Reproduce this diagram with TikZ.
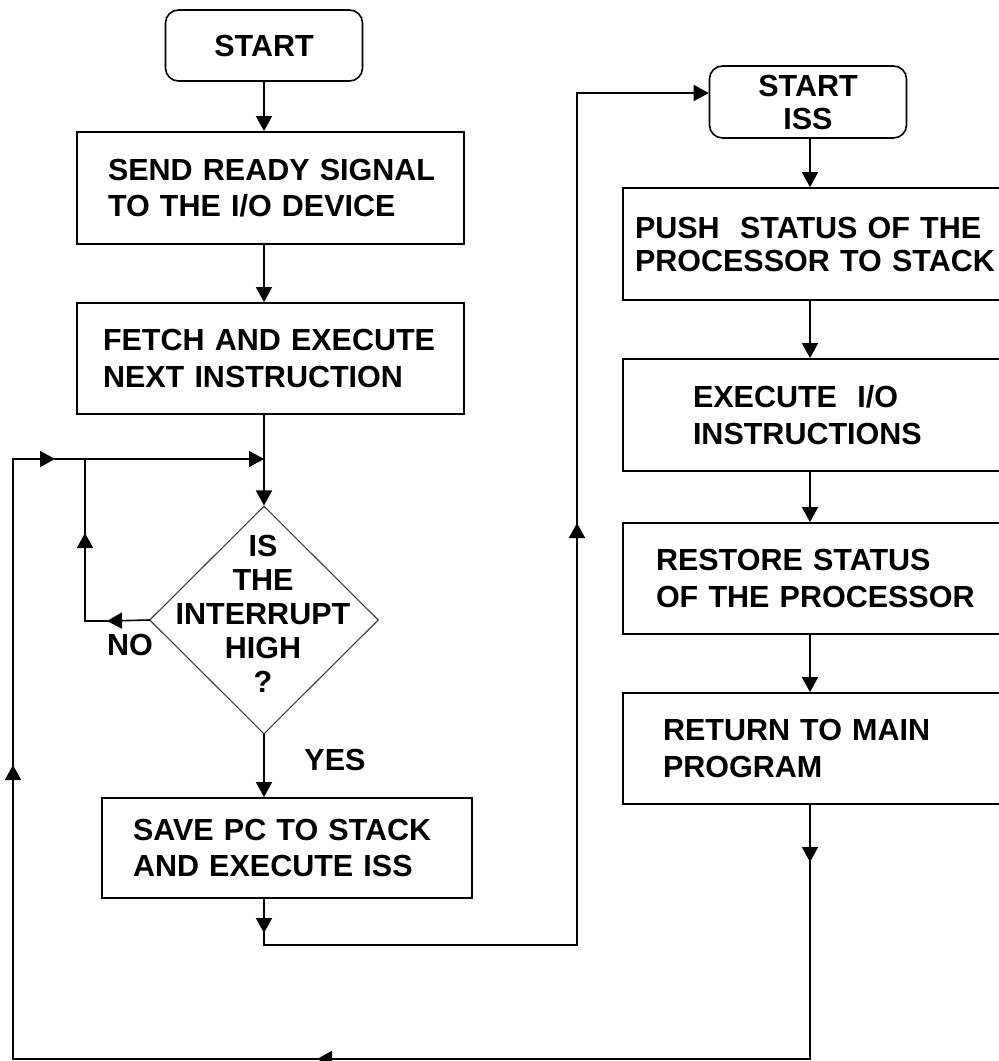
\documentclass[tikz,border=0pt]{standalone}
\usepackage{fontspec}
\setmainfont{Liberation Sans}
\usetikzlibrary{arrows.meta,shapes.geometric}
\begin{document}
\begin{tikzpicture}[x=1pt,y=-1pt,
  txt/.style={font=\bfseries\fontsize{30.5}{36.5}\selectfont, text=black},
  boxnode/.style={txt, draw=black, line width=1.8pt, rectangle, inner ysep=0pt, align=left},
  termnode/.style={txt, draw=black, line width=1.6pt, rectangle, rounded corners=13pt, inner sep=0pt, align=center},
  decnode/.style={draw=black!75, line width=1.1pt, diamond, inner sep=0pt, minimum width=229pt, minimum height=228pt},
  conn/.style={line width=1.6pt, draw=black, line cap=rect},
  arr/.style={conn, -{Triangle[length=15pt,width=16pt]}}
]
\useasboundingbox (0,0) rectangle (999,1061);
\fill[white] (0,0) rectangle (999,1061);

% ---------- nodes ----------
\node[termnode, minimum width=197pt, minimum height=71pt] (start) at (264,45.5) {START};
\node[boxnode, minimum height=112pt, inner xsep=31pt, text width=325pt] (send) at (270.5,188) {\mbox{SEND READY SIGNAL}\\\mbox{TO THE I/O DEVICE}};
\node[boxnode, minimum height=111pt, inner xsep=26pt, text width=335pt] (fetch) at (270.5,358.5) {\mbox{FETCH AND EXECUTE}\\\mbox{NEXT INSTRUCTION}};
\node[decnode] (dec) at (264,620) {};
\node[txt, align=center, font=\bfseries\fontsize{30.5}{34}\selectfont] (dectxt) at (263,614) {IS\\THE\\INTERRUPT\\HIGH\\?};
\node[boxnode, minimum height=100pt, inner xsep=31pt, text width=308pt] (save) at (287,848) {\mbox{SAVE PC TO STACK}\\\mbox{AND EXECUTE ISS}};
\node[txt] (yes) at (335,760) {YES};
\node[txt] (no) at (130,645) {NO};

\node[termnode, minimum width=197pt, minimum height=72pt, font=\bfseries\fontsize{30.5}{33}\selectfont] (startiss) at (808,102) {START\\ISS};
\node[boxnode, minimum height=112pt, inner xsep=12pt, text width=363pt, font=\bfseries\fontsize{30.5}{33}\selectfont] (push) at (816.5,244) {\mbox{PUSH\ \ STATUS OF THE}\\\mbox{PROCESSOR TO STACK}};
\node[boxnode, minimum height=112pt, inner xsep=70pt, text width=247pt] (exec) at (816.5,415) {\mbox{EXECUTE\ \ I/O}\\\mbox{INSTRUCTIONS}};
\node[boxnode, minimum height=111pt, inner xsep=33pt, text width=321pt] (restore) at (816.5,578.5) {\mbox{RESTORE STATUS}\\\mbox{OF THE PROCESSOR}};
\node[boxnode, minimum height=111pt, inner xsep=40pt, text width=307pt] (ret) at (816.5,748.5) {\mbox{RETURN TO MAIN}\\\mbox{PROGRAM}};

% ---------- coordinates ----------
\coordinate (cx) at (264,0);
\coordinate (rx) at (810,0);
\coordinate (j1) at (264,459);
\coordinate (lt) at (13,459);
\coordinate (lb) at (13,1059);
\coordinate (rb) at (810,1059);
\coordinate (nob) at (85,621);
\coordinate (notp) at (85,459);
\coordinate (sb) at (264,945);
\coordinate (mb) at (577,945);
\coordinate (mt) at (577,93);
\coordinate (a1) at (55,459);
\coordinate (a2) at (107,621);
\coordinate (a3) at (85,533);
\coordinate (a4) at (264,933);
\coordinate (a5) at (577,523);
\coordinate (a6) at (810,862);
\coordinate (a7) at (317,1059);
\coordinate (a8) at (13,765);

% ---------- connectors: left column ----------
\draw[arr] (start.south) -- (cx |- send.north);
\draw[arr] (cx |- send.south) -- (cx |- fetch.north);
\draw[conn] (cx |- fetch.south) -- (j1);
\draw[arr] (j1) -- (dec.north);
\draw[arr] (dec.south) -- (cx |- save.north);
% NO loop
\draw[arr] (dec.west) -- (a2);
\draw[conn] (a2) -- (nob);
\draw[arr] (nob) -- (a3);
\draw[conn] (a3) -- (notp);
% to ISS
\draw[arr] (cx |- save.south) -- (a4);
\draw[conn] (a4) -- (sb) -- (mb);
\draw[arr] (mb) -- (a5);
\draw[conn] (a5) -- (mt);
\draw[arr] (mt) -- (mt -| startiss.west);

% ---------- connectors: right column ----------
\draw[arr] (rx |- startiss.south) -- (rx |- push.north);
\draw[arr] (rx |- push.south) -- (rx |- exec.north);
\draw[arr] (rx |- exec.south) -- (rx |- restore.north);
\draw[arr] (rx |- restore.south) -- (rx |- ret.north);
% return loop
\draw[arr] (rx |- ret.south) -- (a6);
\draw[conn] (a6) -- (rb);
\draw[arr] (rb) -- (a7);
\draw[conn] (a7) -- (lb);
\draw[arr] (lb) -- (a8);
\draw[conn] (a8) -- (lt);
\draw[arr] (lt) -- (a1);
\draw[conn] (a1) -- (notp);
\draw[arr] (notp) -- (j1);
\end{tikzpicture}
\end{document}
